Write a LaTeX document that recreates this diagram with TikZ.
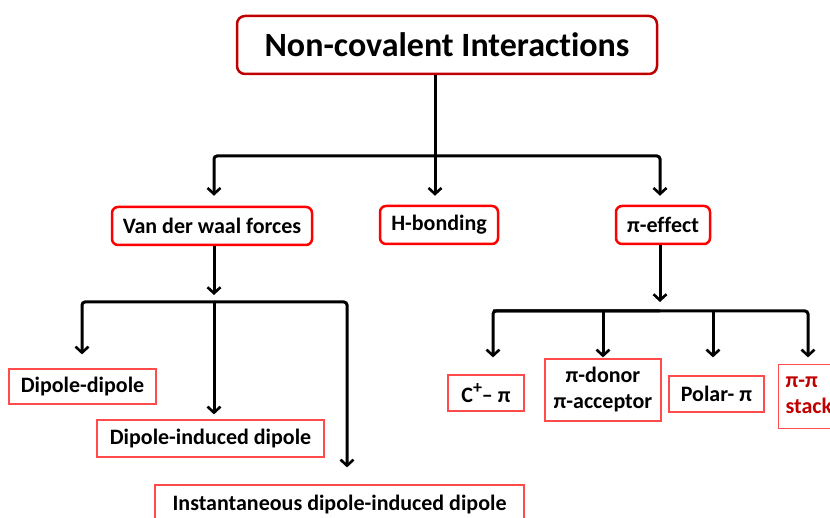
\documentclass[tikz,border=0pt]{standalone}
\usepackage{fontspec}
\setmainfont{Carlito}[Ligatures=NoCommon]
\usetikzlibrary{arrows.meta}

\definecolor{titlered}{HTML}{C00000}
\definecolor{boxred}{HTML}{FF0000}
\definecolor{leafred}{HTML}{FF4B4B}

\begin{document}
\begin{tikzpicture}[x=1pt, y=-1pt]
        % Styles
        \tikzstyle{topbox} = [draw=titlered, line width=2.5pt, rounded corners=8pt,
                              font=\fontsize{34}{38}\selectfont\bfseries]
        \tikzstyle{groupbox} = [draw=boxred, line width=2.5pt, rounded corners=6pt,
                                minimum height=38pt, font=\fontsize{22}{24}\selectfont\bfseries]
        \tikzstyle{leafbox} = [draw=leafred, line width=1.2pt, align=center,
                               font=\fontsize{22}{26}\selectfont\bfseries]
        \tikzstyle{link} = [line width=3pt, rounded corners=3pt]
        \tikzstyle{arrow} = [link, -{Straight Barb[length=6pt, width=13pt, line width=2.6pt]}]

        \clip (0,0) rectangle (830,518);

        % Title
        \node[topbox, minimum width=420pt, minimum height=58pt] (title) at (447,45) {Non-covalent Interactions};

        % Second level - rounded boxes
        \node[groupbox, minimum width=200pt] (vdw) at (212,226) {Van der waal forces};
        \node[groupbox, minimum width=118pt] (hbond) at (439,225) {H-bonding};
        \node[groupbox, minimum width=94pt] (pieff) at (663,225) {π-effect};

        % Van der waal leaves
        \node[leafbox, minimum width=147pt, minimum height=35pt] (dd) at (82.5,386.5) {Dipole-dipole};
        \node[leafbox, minimum width=227pt, minimum height=37pt] (did) at (210.5,438.5) {Dipole-induced dipole};
        \node[leafbox, minimum width=369pt, minimum height=40pt] (idid) at (339.5,505) {Instantaneous dipole-induced dipole};

        % π-effect leaves
        \node[leafbox, minimum width=76pt, minimum height=36pt] (cpi) at (486,393)
            {C\raisebox{0.42em}{\fontsize{18}{18}\selectfont +}– π};
        \node[leafbox, minimum width=116pt, minimum height=62pt] (donor) at (603,390) {π-donor\\π-acceptor};
        \node[leafbox, minimum width=95pt, minimum height=36pt] (polar) at (716.5,394) {Polar- π};
        \node[leafbox, minimum width=80pt, minimum height=64pt, align=left, text=titlered,
              anchor=north west, inner xsep=7pt] (stack) at (778,364) {π-π\\stacking};

        % Branch points
        \coordinate (split1) at (435,156);
        \coordinate (split2) at (214,302);
        \coordinate (bar2l) at (82,302);
        \coordinate (bar2r) at (347,302);
        \coordinate (split3) at (660,311);
        \coordinate (bar3l) at (493,311);
        \coordinate (bar3r) at (808,311);

        % Title to second level
        \draw[arrow, shorten >=9pt] (title.south -| split1) -- (split1 |- hbond.north);
        \draw[arrow, shorten >=10pt] (split1) -| (vdw.north -| split2);
        \draw[arrow, shorten >=9pt] (split1) -| (pieff.north -| split3);

        % Van der waal forces branches
        \draw[arrow, shorten >=7pt] (vdw.south -| split2) -- (split2);
        \draw[arrow, shorten >=14pt] (split2) -- (bar2l) -- (bar2l |- dd.north);
        \draw[arrow, shorten >=5pt] (split2) -- (split2 |- did.north);
        \draw[arrow, shorten >=17pt] (split2) -- (bar2r) -- (bar2r |- idid.north);

        % π-effect branches
        \draw[arrow, shorten >=9pt] (pieff.south -| split3) -- (split3);
        \draw[arrow, shorten >=17pt] (split3) -- (bar3l) -- (bar3l |- cpi.north);
        \draw[arrow, shorten >=1pt] (bar3l) -- (bar3r) -- (bar3r |- donor.north);
        \draw[arrow, shorten >=1pt] (split3 -| donor.north) -- (donor.north);
        \draw[arrow, shorten >=18pt] (split3 -| 713,0) -- (713,0 |- polar.north);
\end{tikzpicture}
\end{document}
